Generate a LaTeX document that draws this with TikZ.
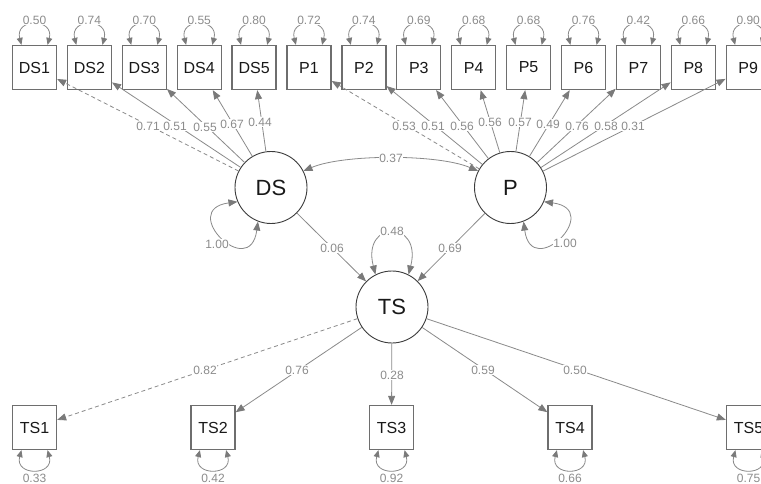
\documentclass[tikz,border=0pt]{standalone}
\usepackage{fontspec}
\setmainfont{Liberation Sans}
\usetikzlibrary{arrows.meta,calc}
\definecolor{edgec}{HTML}{8A8A8A}
\definecolor{tipc}{HTML}{7A7A7A}
\definecolor{labc}{HTML}{8C8C8C}
\definecolor{boxc}{HTML}{6E6E6E}
\definecolor{latc}{HTML}{3C3C3C}
\begin{document}
\begin{tikzpicture}[x=1pt,y=-1pt,
  manifest/.style={draw=boxc, line width=1.3pt, minimum size=44pt, inner sep=0pt,
    font=\fontsize{16}{16}\selectfont, text=black!90},
  latent/.style={circle, draw=latc, line width=0.9pt, minimum size=72pt, inner sep=0pt,
    font=\fontsize{22}{22}\selectfont, text=black!90},
  load/.style={draw=edgec, line width=0.8pt, -{Triangle[length=9pt,width=7pt,color=tipc]}},
  fixedload/.style={load, dash pattern=on 4pt off 3pt},
  cov/.style={draw=edgec, line width=0.8pt,
    {Triangle[length=9pt,width=7pt,color=tipc]}-{Triangle[length=9pt,width=7pt,color=tipc]}},
  varloop/.style={draw=edgec, line width=0.8pt,
    {Triangle[length=7pt,width=6pt,color=tipc]}-{Triangle[length=7pt,width=6pt,color=tipc]}},
  lab/.style={fill=white, inner sep=0.6pt, text=labc, font=\fontsize{12}{12}\selectfont}
]
\fill[white] (0,0) rectangle (761,484);
\useasboundingbox (0,0) rectangle (761,484);

% latent variables
\node[latent] (DS) at (271,187.5) {DS};
\node[latent] (P)  at (510.5,187.5) {P};
\node[latent] (TS) at (392,307) {TS};

% top indicators
\foreach \n [count=\i from 0] in {DS1,DS2,DS3,DS4,DS5,P1,P2,P3,P4,P5,P6,P7,P8,P9}
  \node[manifest] (\n) at ({34.5+54.9*\i},67.5) {\n};

% bottom indicators
\foreach \n/\x in {TS1/34.5,TS2/213,TS3/391.5,TS4/570,TS5/748.5}
  \node[manifest] (\n) at (\x,427.5) {\n};

% residual variances of top indicators
\foreach \n/\v in {DS1/0.50,DS2/0.74,DS3/0.70,DS4/0.55,DS5/0.80,P1/0.72,P2/0.74,P3/0.69,P4/0.68,P5/0.68,P6/0.76,P7/0.42,P8/0.66,P9/0.90}{
  \draw[varloop] (\n.120) .. controls +(-7,-27) and +(7,-27) .. (\n.60);
  \node[lab] (v\n) at ($(\n.north)+(0,-24.5)$) {\v};
}

% residual variances of bottom indicators
\foreach \n/\v in {TS1/0.33,TS2/0.42,TS3/0.92,TS4/0.66,TS5/0.75}{
  \draw[varloop] (\n.-120) .. controls +(-7,26) and +(7,26) .. (\n.-60);
  \node[lab] (v\n) at ($(\n.south)+(0,28.5)$) {\v};
}

% loadings DS
\draw[fixedload] (DS) -- (DS1);
\foreach \n in {DS2,DS3,DS4,DS5} \draw[load] (DS) -- (\n);
% loadings P
\draw[fixedload] (P) -- (P1);
\foreach \n in {P2,P3,P4,P5,P6,P7,P8,P9} \draw[load] (P) -- (\n);
% loadings TS
\draw[fixedload] (TS) -- (TS1);
\foreach \n in {TS2,TS3,TS4,TS5} \draw[load] (TS) -- (\n);

% structural paths
\draw[load] (DS) -- (TS);
\draw[load] (P) -- (TS);

% covariance and latent variances
\draw[cov] (DS.27) .. controls +(40,-17) and +(-40,-17) .. (P.153);
\draw[varloop, {Triangle[length=9pt,width=7pt,color=tipc]}-{Triangle[length=9pt,width=7pt,color=tipc]}]
  (DS.249) .. controls +(-8,60) and +(-60,8) .. (DS.203);
\draw[varloop, {Triangle[length=9pt,width=7pt,color=tipc]}-{Triangle[length=9pt,width=7pt,color=tipc]}]
  (P.291) .. controls +(8,60) and +(60,8) .. (P.337);
\draw[varloop, {Triangle[length=9pt,width=7pt,color=tipc]}-{Triangle[length=9pt,width=7pt,color=tipc]}]
  (TS.117) .. controls +(-14,-55) and +(14,-55) .. (TS.63);

% labels
\node[lab] (lcov) at (391,158) {0.37};
\node[lab] (lvDS) at (217,244) {1.00};
\node[lab] (lvP)  at (565,243) {1.00};
\node[lab] (lvTS) at (392,231) {0.48};
\node[lab] (lDSTS) at (332,248) {0.06};
\node[lab] (lPTS)  at (450,248) {0.69};

\node[lab] (lDS1) at (148,126) {0.71};
\node[lab] (lDS2) at (175,126) {0.51};
\node[lab] (lDS3) at (205,127) {0.55};
\node[lab] (lDS4) at (232,124) {0.67};
\node[lab] (lDS5) at (260,122) {0.44};

\node[lab] (lP1) at (404,126) {0.53};
\node[lab] (lP2) at (433,126) {0.51};
\node[lab] (lP3) at (462,126) {0.56};
\node[lab] (lP4) at (490,122) {0.56};
\node[lab] (lP5) at (520,122) {0.57};
\node[lab] (lP6) at (548,124) {0.49};
\node[lab] (lP7) at (577,126) {0.76};
\node[lab] (lP8) at (606,126) {0.58};
\node[lab] (lP9) at (633,126) {0.31};

\node[lab] (lTS1) at (205,370) {0.82};
\node[lab] (lTS2) at (297,370) {0.76};
\node[lab] (lTS3) at (392,375) {0.28};
\node[lab] (lTS4) at (483,370) {0.59};
\node[lab] (lTS5) at (575,370) {0.50};
\end{tikzpicture}
\end{document}
